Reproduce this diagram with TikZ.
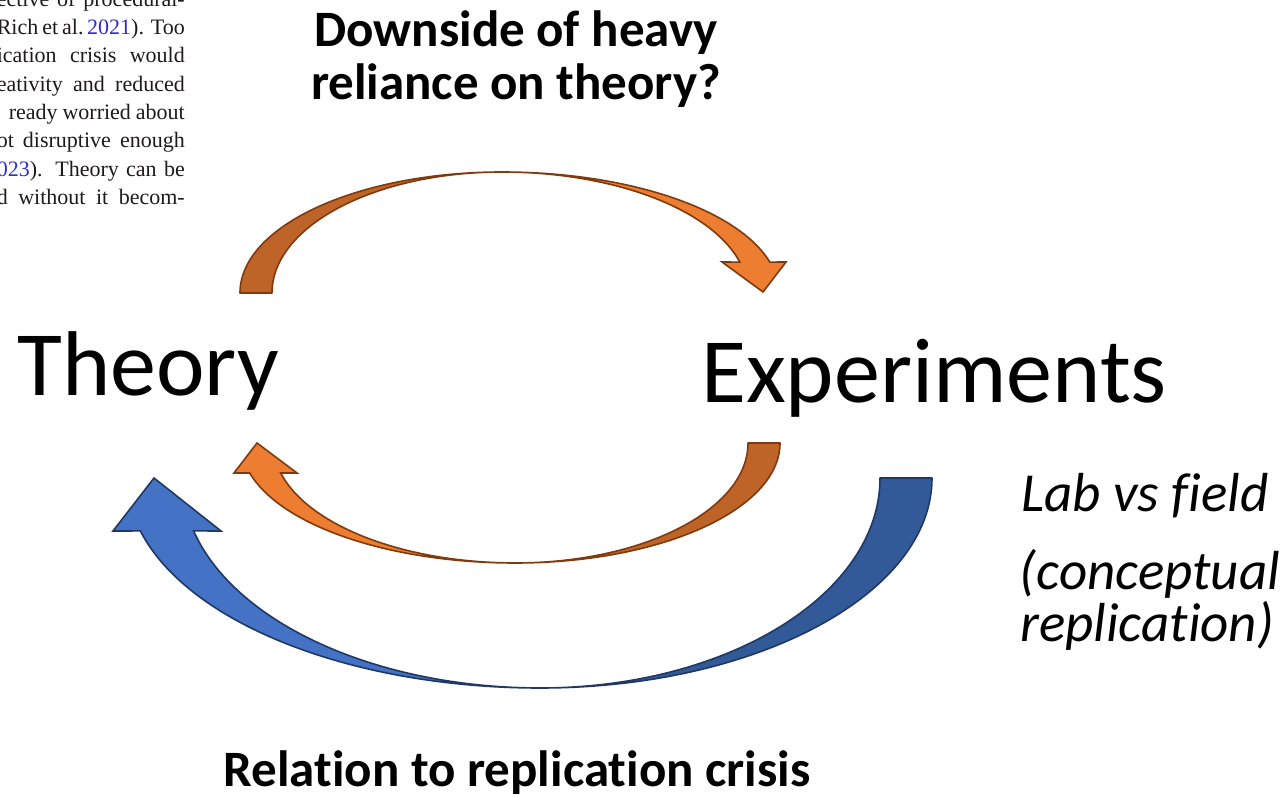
\documentclass[tikz,border=0pt]{standalone}
\usepackage{fontspec}
\setmainfont{Carlito}[Ligatures=NoCommon]
\newfontfamily\paperfont{Liberation Serif}
\definecolor{orangefront}{HTML}{ED7D31}
\definecolor{orangeback}{HTML}{BF6429}
\definecolor{orangeline}{HTML}{7F3A0E}
\definecolor{bluefront}{HTML}{4472C4}
\definecolor{blueback}{HTML}{335A98}
\definecolor{blueline}{HTML}{1F3864}
\definecolor{papertext}{HTML}{1E1A1B}
\definecolor{paperlink}{RGB}{45,45,205}
\newcommand{\paperrow}[1]{\makebox[188pt][s]{#1}}
\tikzset{
  obackface/.style={fill=orangeback, draw=orangeline, line width=1.6pt, line join=round},
  ofrontface/.style={fill=orangefront, draw=orangeline, line width=1.6pt, line join=miter},
  bbackface/.style={fill=blueback, draw=blueline, line width=1.6pt, line join=round},
  bfrontface/.style={fill=bluefront, draw=blueline, line width=1.6pt, line join=miter},
  paperline/.style={anchor=base east, inner sep=0pt, text=papertext,
    font=\paperfont\fontsize{22}{28}\selectfont},
  bigword/.style={anchor=base west, inner sep=0pt, font=\fontsize{92}{92}\selectfont},
  question/.style={anchor=base, inner sep=0pt, font=\bfseries\fontsize{51}{53}\selectfont},
  remark/.style={anchor=base, inner sep=0pt, font=\itshape\fontsize{55}{55}\selectfont}
}
\begin{document}
\begin{tikzpicture}[x=1pt,y=1pt]
  \useasboundingbox (0,0) rectangle (1285,796);
  % piece of the paper page, cut at the edges
  \begin{scope}
    \clip (0,0) rectangle (1285,796);
    \node[paperline] (p1) at (185,789) {\paperrow{ective of procedural-}};
    \node[paperline] (p2) at (185,761) {\paperrow{Rich et al.\,\textcolor{paperlink}{2021}). Too}};
    \node[paperline] (p3) at (185,733) {\paperrow{ication crisis would}};
    \node[paperline] (p4) at (185,704) {\paperrow{eativity and reduced}};
    \node[paperline] (p5) at (185,676) {\makebox[176pt][s]{ready worried about}};
    \node[paperline] (p6) at (185,648) {\paperrow{ot disruptive enough}};
    \node[paperline] (p7) at (185,619) {\paperrow{\textcolor{paperlink}{023}). Theory can be}};
    \node[paperline] (p8) at (185,591) {\paperrow{d without it becom-}};
  \end{scope}

  % the two ends of the loop
  \node[bigword] (theory) at (17,400) {Theory};
  \node[bigword] (experiments) at (701,393) {Experiments};

  % outer blue arrow, experiments back to theory
  \draw[bbackface] (932,318) arc[start angle=0, end angle=-90, x radius=392, y radius=210]
    arc[start angle=-90, end angle=0, x radius=340, y radius=210] -- cycle;
  \draw[bfrontface] (540,108) arc[start angle=270, end angle=194.6, x radius=413, y radius=210]
    -- (113,265) -- (154,318) -- (221,265)
    -- (193.6,265.1) arc[start angle=194.6, end angle=270, x radius=358, y radius=210] -- cycle;

  % upper orange arrow, theory to experiments
  \draw[obackface] (240,503) arc[start angle=180, end angle=90, x radius=262, y radius=121]
    arc[start angle=90, end angle=180, x radius=230, y radius=121] -- cycle;
  \draw[ofrontface] (502,624) arc[start angle=90, end angle=14.8, x radius=277, y radius=121]
    -- (786,534) -- (763,504) -- (722,534)
    -- (739.8,533.9) arc[start angle=14.8, end angle=90, x radius=246, y radius=121] -- cycle;

  % lower orange arrow, experiments to theory
  \draw[obackface] (780,353) arc[start angle=0, end angle=-90, x radius=265, y radius=120]
    arc[start angle=-90, end angle=0, x radius=233, y radius=120] -- cycle;
  \draw[ofrontface] (515,233) arc[start angle=270, end angle=194.5, x radius=274, y radius=120]
    -- (234,323) -- (257,353) -- (297,323)
    -- (280.7,323) arc[start angle=194.5, end angle=270, x radius=242, y radius=120] -- cycle;

  % questions round the loop
  \node[question] (downside) at (516,749) {Downside of heavy};
  \node[question] (reliance) at (516,696) {reliance on theory?};
  \node[question] (relation) at (517,10) {Relation to replication crisis};
  \node[remark] (labfield) at (1145,284) {Lab vs field};
  \node[remark] (conceptual) at (1150,207) {(conceptual};
  \node[remark] (replication) at (1147,155) {replication)};
\end{tikzpicture}
\end{document}
